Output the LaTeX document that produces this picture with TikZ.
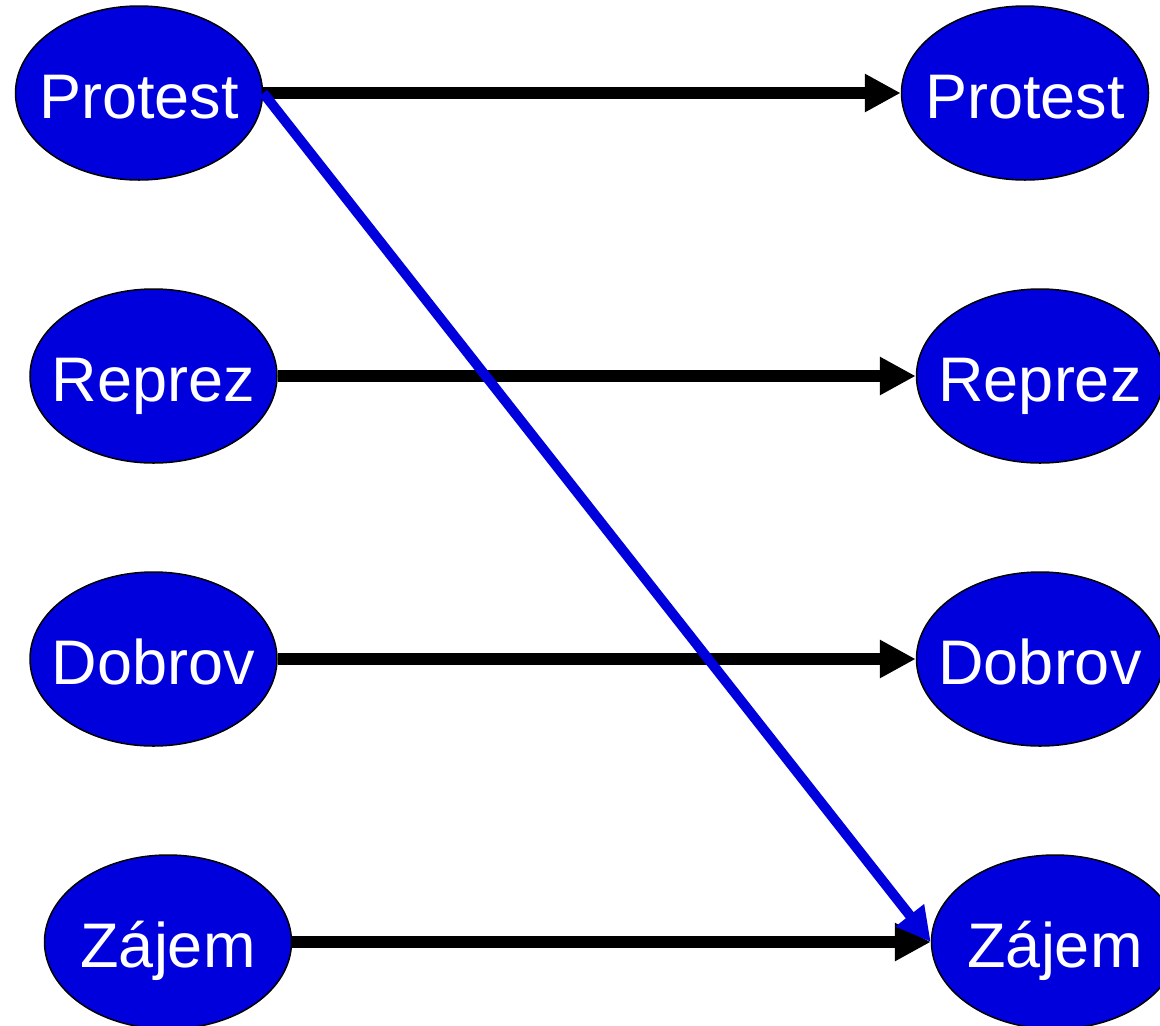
\documentclass[tikz,border=0pt]{standalone}
\usepackage{fontspec}
\setmainfont{Liberation Sans}
\usetikzlibrary{shapes.geometric,arrows.meta}
\definecolor{nodeblue}{RGB}{0,0,221}
\tikzset{
  state/.style={ellipse, draw=black, line width=1.5pt, fill=nodeblue, text=white,
    minimum width=247pt, minimum height=174pt, inner sep=-40pt,
    font=\fontsize{63}{70}\selectfont, text height=50pt, text depth=0pt},
  flow/.style={line width=12pt, -{Triangle[length=36pt,width=36pt]}},
  cross/.style={line width=10pt, draw=nodeblue, -{Triangle[length=34pt,width=34pt,fill=nodeblue]}}
}
\begin{document}
\begin{tikzpicture}[x=1pt,y=-1pt]
\clip (0,0) rectangle (1160,1026);
\node[state] (l0) at (139,93){Protest};
\node[state] (l1) at (153.5,376){Reprez};
\node[state] (l2) at (153.5,659){Dobrov};
\node[state] (l3) at (168,942){Zájem};
\node[state] (r0) at (1025,93){Protest};
\node[state] (r1) at (1040,376){Reprez};
\node[state] (r2) at (1040,659){Dobrov};
\node[state] (r3) at (1055,942){Zájem};
\draw[flow](l0) -- (r0);
\draw[flow](l1) -- (r1);
\draw[flow](l2) -- (r2);
\draw[flow](l3) -- (r3);
\draw[cross](l0.east) -- (r3.west);

\end{tikzpicture}
\end{document}
